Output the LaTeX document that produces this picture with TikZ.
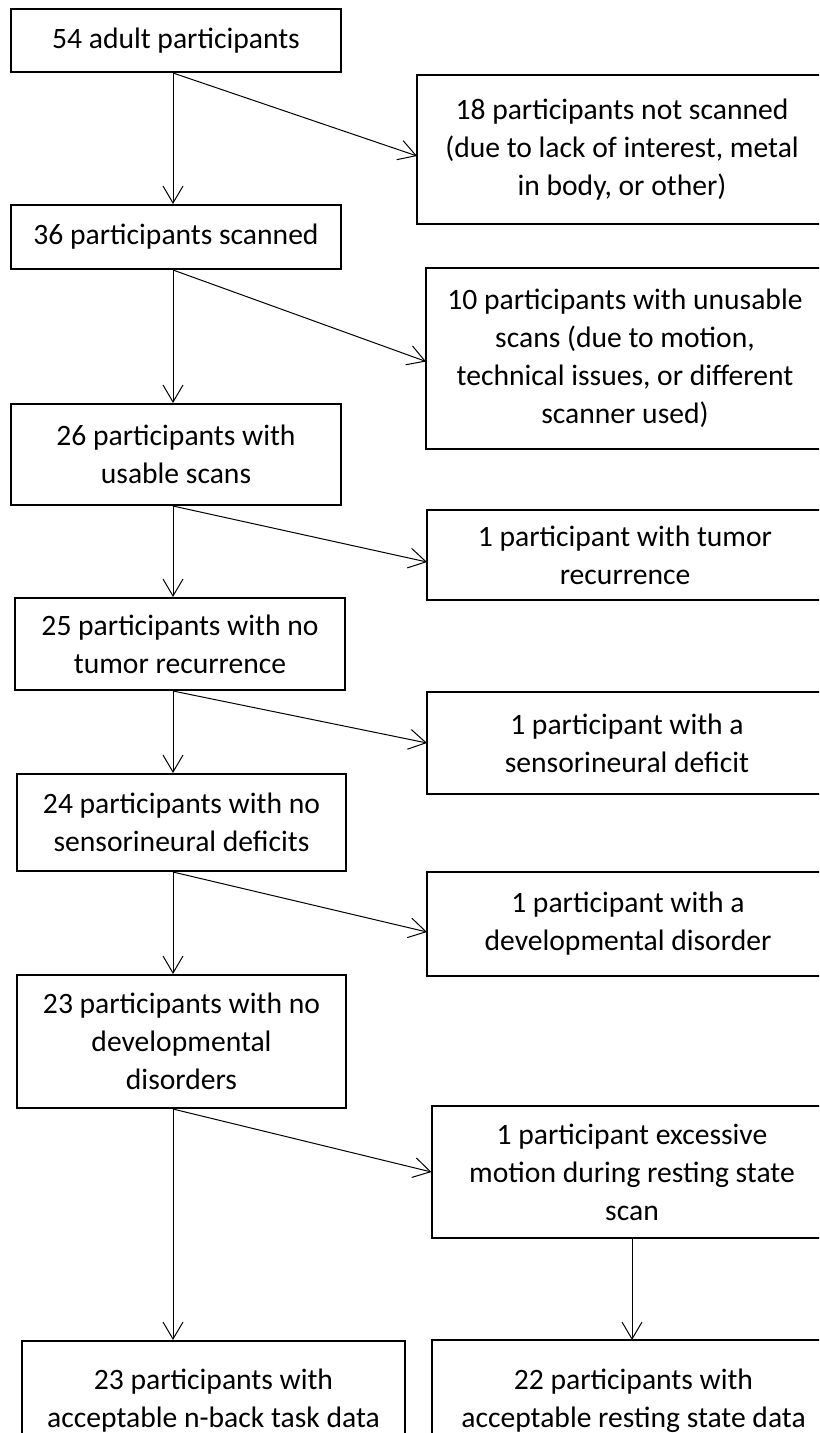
\documentclass[tikz,border=0pt]{standalone}
\usepackage{fontspec}
\setmainfont{Carlito}
\usetikzlibrary{arrows.meta}

\begin{document}
\begin{tikzpicture}[x=0.5pt,y=-0.5pt,
  box/.style={draw,line width=1pt,inner sep=0pt,align=center,font=\fontsize{14.8pt}{19pt}\selectfont},
  sidebox/.style={box,draw=none},
  arr/.style={line width=0.5pt,-{Straight Barb[length=8.5pt,width=10pt]}}]
\useasboundingbox (0,0) rectangle (819,1433);
\clip (0,0) rectangle (819,1433);
\fill[white] (0,0) rectangle (819,1433);
\coordinate (spine) at (173,0);
\node[box,minimum width=165pt,minimum height=31.5pt] (b1) at (176,40.5) {54 adult participants};
\node[sidebox,minimum width=204pt,minimum height=73.5pt] (r1) at (622,150) {18 participants not scanned\\(due to lack of interest, metal\\in body, or other)};
\node[box,minimum width=165pt,minimum height=32pt] (b2) at (176,237) {36 participants scanned};
\node[sidebox,minimum width=198pt,minimum height=89.5pt] (r2) at (625,358.5) {10 participants with unusable\\scans (due to motion,\\technical issues, or different\\scanner used)};
\node[box,minimum width=165pt,minimum height=50.5pt] (b3) at (176,454.5) {26 participants with\\usable scans};
\node[sidebox,minimum width=197pt,minimum height=44pt] (r3) at (625,555) {1 participant with tumor\\recurrence};
\node[box,minimum width=165pt,minimum height=46pt] (b4) at (180,644) {25 participants with no\\tumor recurrence};
\node[sidebox,minimum width=199pt,minimum height=50pt] (r4) at (627,743) {1 participant with a\\sensorineural deficit};
\node[box,minimum width=164.5pt,minimum height=48.5pt] (b5) at (181.5,822.5) {24 participants with no\\sensorineural deficits};
\node[sidebox,minimum width=200pt,minimum height=51pt] (r5) at (628,924) {1 participant with a\\developmental disorder};
\node[box,minimum width=164.5pt,minimum height=66.5pt] (b6) at (181.5,1041.5) {23 participants with no\\developmental\\disorders};
\node[sidebox,minimum width=199.5pt,minimum height=65pt] (r6) at (632,1172) {1 participant excessive\\motion during resting state\\scan};
\node[box,minimum width=191.5pt,minimum height=60pt] (b7) at (213.5,1401) {23 participants with\\acceptable n-back task data};
\node[sidebox,minimum width=201pt,minimum height=60pt] (r7) at (633.5,1401) {22 participants with\\acceptable resting state data};
\foreach \r in {r1,r2,r3,r4,r5,r6,r7}
  \draw[line width=1pt] ([xshift=30pt]\r.north east) -- (\r.north west) -- (\r.south west) -- ([xshift=30pt]\r.south east);
\draw[arr] (b1.south -| spine) -- (b2.north -| spine);
\draw[arr] (b1.south -| spine) -- ([yshift=-3pt]r1.west);
\draw[arr] (b2.south -| spine) -- (b3.north -| spine);
\draw[arr] (b2.south -| spine) -- ([yshift=-1.5pt]r2.west);
\draw[arr] (b3.south -| spine) -- (b4.north -| spine);
\draw[arr] (b3.south -| spine) -- ([yshift=-3.5pt]r3.west);
\draw[arr] (b4.south -| spine) -- (b5.north -| spine);
\draw[arr] (b4.south -| spine) -- (r4.west);
\draw[arr] (b5.south -| spine) -- (b6.north -| spine);
\draw[arr] (b5.south -| spine) -- ([yshift=-4pt]r5.west);
\draw[arr] (b6.south -| spine) -- (b7.north -| spine);
\draw[arr] (b6.south -| spine) -- (r6.west);
\draw[arr] (r6.south) -- (r6.south |- r7.north);
\end{tikzpicture}
\end{document}
